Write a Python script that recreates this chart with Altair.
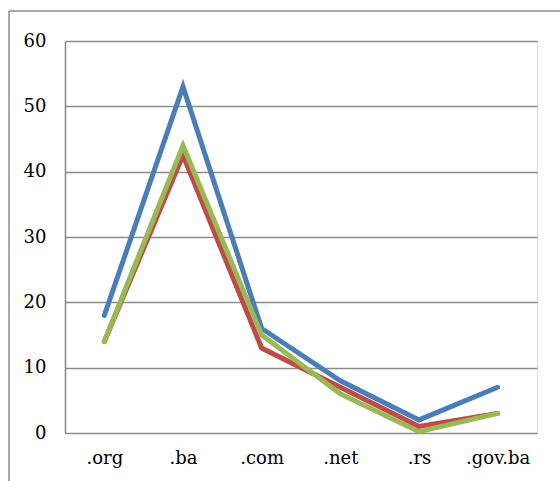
import altair as alt
import pandas as pd

categories = [".org", ".ba", ".com", ".net", ".rs", ".gov.ba"]
series_names = ["s1", "s2", "s3"]
blue_values = [18, 53, 16, 8, 2, 7]
red_values = [14, 42.5, 13, 7, 1, 3]
green_values = [14, 44, 15, 6, 0.2, 3]
colors = ["#4A7EBB", "#BE4B48", "#98B954"]
y_ticks = [0, 10, 20, 30, 40, 50, 60]

rows = []
for name, vals in zip(series_names, [blue_values, red_values, green_values]):
    for c, v in zip(categories, vals):
        rows.append({"cat": c, "val": v, "series": name})
df = pd.DataFrame(rows)

FONT = "DejaVu Serif"
GRID = "#8C8C8C"

lines = alt.Chart(df).mark_line(strokeWidth=5, strokeCap="round", strokeJoin="miter").encode(
    x=alt.X("cat:N", sort=categories,
            scale=alt.Scale(type="point", padding=0.5),
            axis=alt.Axis(title=None, labelAngle=0, ticks=False, domain=False,
                          labelPadding=16)),
    y=alt.Y("val:Q", scale=alt.Scale(domain=[0, 60], nice=False, zero=True),
            axis=alt.Axis(title=None, values=y_ticks, ticks=False, grid=True,
                          gridColor=GRID, gridWidth=1.6, domainColor=GRID, domainWidth=1.6,
                          labelPadding=19)),
    color=alt.Color("series:N", scale=alt.Scale(domain=series_names, range=colors), legend=None),
    order=alt.Order("series:N"),
)

border_left = alt.Chart(pd.DataFrame({"a": [0]})).mark_rule(color=GRID, strokeWidth=1.5).encode(
    x=alt.value(-56), y=alt.value(-30), y2=alt.value(450))
border_top = alt.Chart(pd.DataFrame({"a": [0]})).mark_rule(color=GRID, strokeWidth=1.5).encode(
    x=alt.value(-56), x2=alt.value(500), y=alt.value(-30))

chart = alt.layer(lines, border_left, border_top).properties(
    width=472, height=392,
    autosize=alt.AutoSizeParams(type="none"),
    padding={"left": 65, "top": 41, "right": 23, "bottom": 48},
    background="white",
).configure_view(stroke=None).configure(font=FONT).configure_axis(
    labelFont=FONT, labelFontSize=18, labelColor="#000000"
)

chart.save("out.html", embed_options={"renderer": "svg", "actions": False})
